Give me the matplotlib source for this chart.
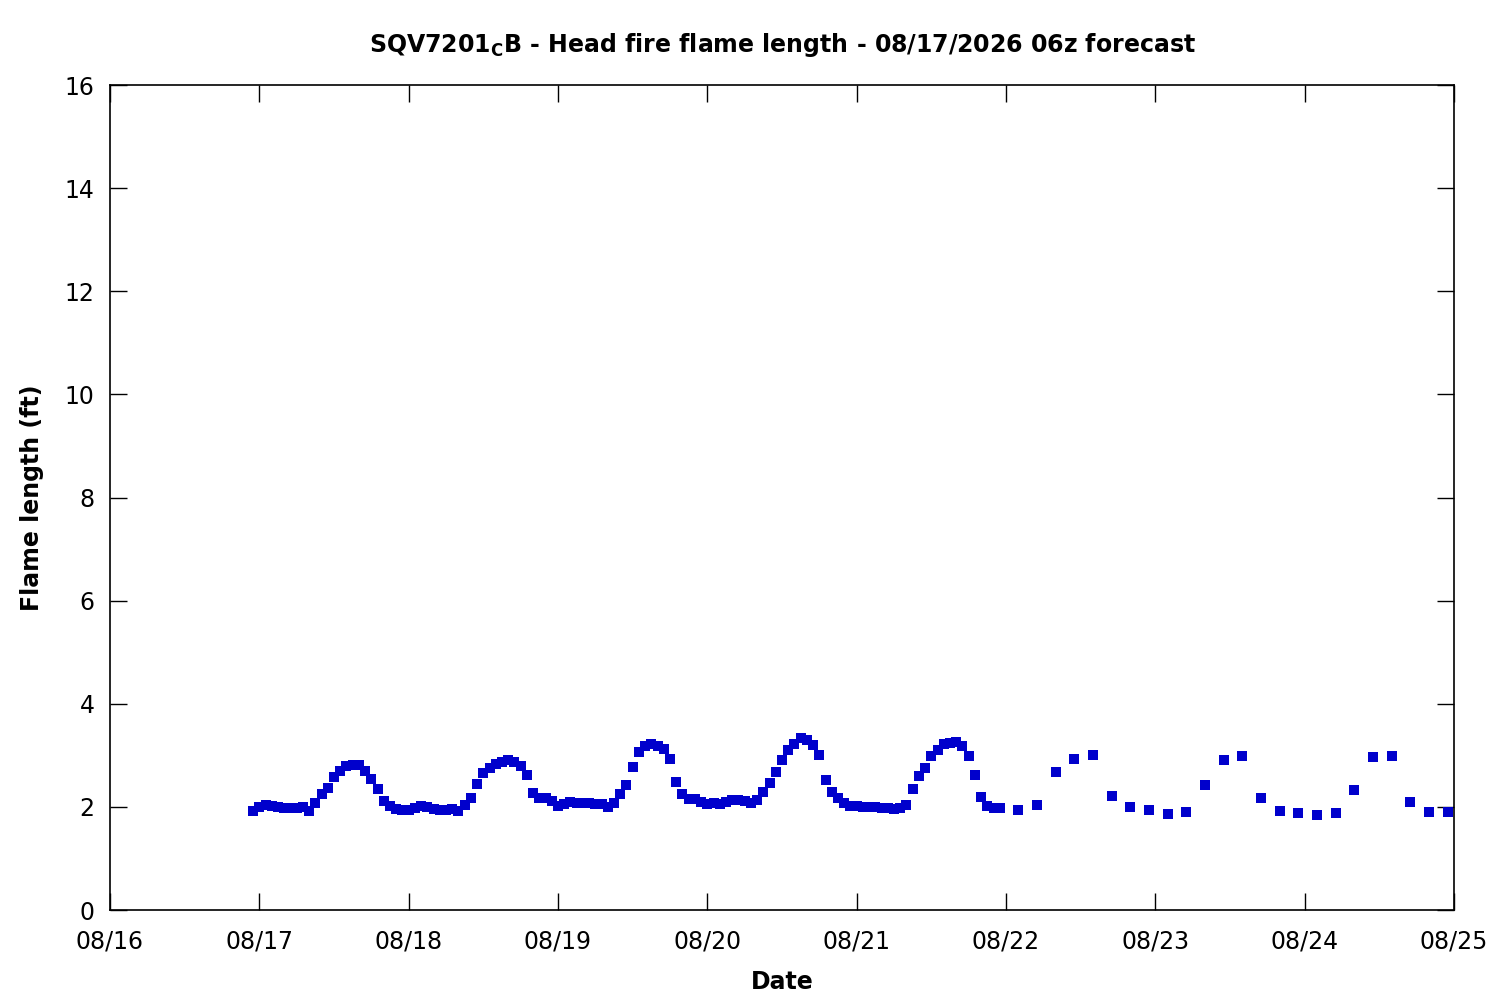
import datetime as dt
import matplotlib
matplotlib.use("Agg")
import matplotlib.pyplot as plt
import matplotlib.dates as mdates

# hourly values, 08/16 23:00 -> 08/21 23:00
hourly_start = dt.datetime(2026, 8, 16, 23)
hourly_flame = [
    1.92, 2.00, 2.04, 2.02, 2.00, 1.97, 1.97, 1.97, 2.00, 1.92,
    2.07, 2.25, 2.36, 2.58, 2.70, 2.80, 2.82, 2.82, 2.70, 2.54,
    2.35, 2.11, 2.02, 1.96, 1.94, 1.94, 1.97, 2.02, 2.00, 1.96,
    1.94, 1.94, 1.96, 1.92, 2.04, 2.17, 2.44, 2.65, 2.75, 2.83,
    2.87, 2.91, 2.87, 2.80, 2.62, 2.27, 2.18, 2.17, 2.11, 2.02,
    2.06, 2.09, 2.07, 2.07, 2.07, 2.05, 2.05, 2.00, 2.07, 2.25,
    2.42, 2.77, 3.06, 3.18, 3.22, 3.18, 3.12, 2.93, 2.48, 2.25,
    2.16, 2.16, 2.09, 2.05, 2.07, 2.05, 2.09, 2.13, 2.13, 2.11,
    2.07, 2.13, 2.29, 2.46, 2.67, 2.90, 3.10, 3.22, 3.34, 3.30,
    3.20, 3.00, 2.52, 2.29, 2.17, 2.07, 2.02, 2.02, 2.00, 2.00,
    2.00, 1.97, 1.97, 1.96, 1.98, 2.04, 2.35, 2.60, 2.75, 2.99,
    3.10, 3.22, 3.24, 3.26, 3.18, 2.99, 2.62, 2.19, 2.02, 1.97,
    1.97,
]

# 3-hourly values, 08/22 02:00 -> 08/24 23:00
three_hourly_start = dt.datetime(2026, 8, 22, 2)
three_hourly_flame = [
    1.94, 2.03, 2.67, 2.92, 3.00, 2.22, 2.00, 1.94,
    1.86, 1.90, 2.42, 2.90, 2.98, 2.18, 1.92, 1.88,
    1.84, 1.88, 2.33, 2.96, 2.98, 2.09, 1.90, 1.90,
]

times = [hourly_start + dt.timedelta(hours=i) for i in range(len(hourly_flame))]
times += [three_hourly_start + dt.timedelta(hours=3 * i) for i in range(len(three_hourly_flame))]
flame = hourly_flame + three_hourly_flame

plt.rcParams['font.family'] = 'DejaVu Sans'

fig = plt.figure(figsize=(15, 10), dpi=100)
ax = fig.add_axes([110 / 1500, 90 / 1000, 1344 / 1500, 825 / 1000])

ax.plot(times, flame, linestyle='none', marker='s', markersize=6.5,
        color='#0000cc', markeredgewidth=0)

ax.set_xlim(dt.datetime(2026, 8, 16), dt.datetime(2026, 8, 25))
ax.set_ylim(0, 16)
ax.set_yticks(range(0, 17, 2))
ax.xaxis.set_major_locator(mdates.DayLocator())
ax.xaxis.set_major_formatter(mdates.DateFormatter('%m/%d'))

ax.tick_params(direction='in', length=12, width=1, top=True, right=True,
               labelsize=17, colors='black')
ax.tick_params(axis='x', pad=14)
ax.tick_params(axis='y', pad=11)
for spine in ax.spines.values():
    spine.set_linewidth(1.2)

ax.set_xlabel('Date', fontsize=17, fontweight='bold', labelpad=12)
ax.set_ylabel('Flame length (ft)', fontsize=17, fontweight='bold', labelpad=15)
ax.set_title(r'SQV7201$_\mathbf{C}$B - Head fire flame length - 08/17/2026 06z forecast',
             fontsize=17, fontweight='bold', pad=24)

fig.savefig('out.png', dpi=100, facecolor='white')
